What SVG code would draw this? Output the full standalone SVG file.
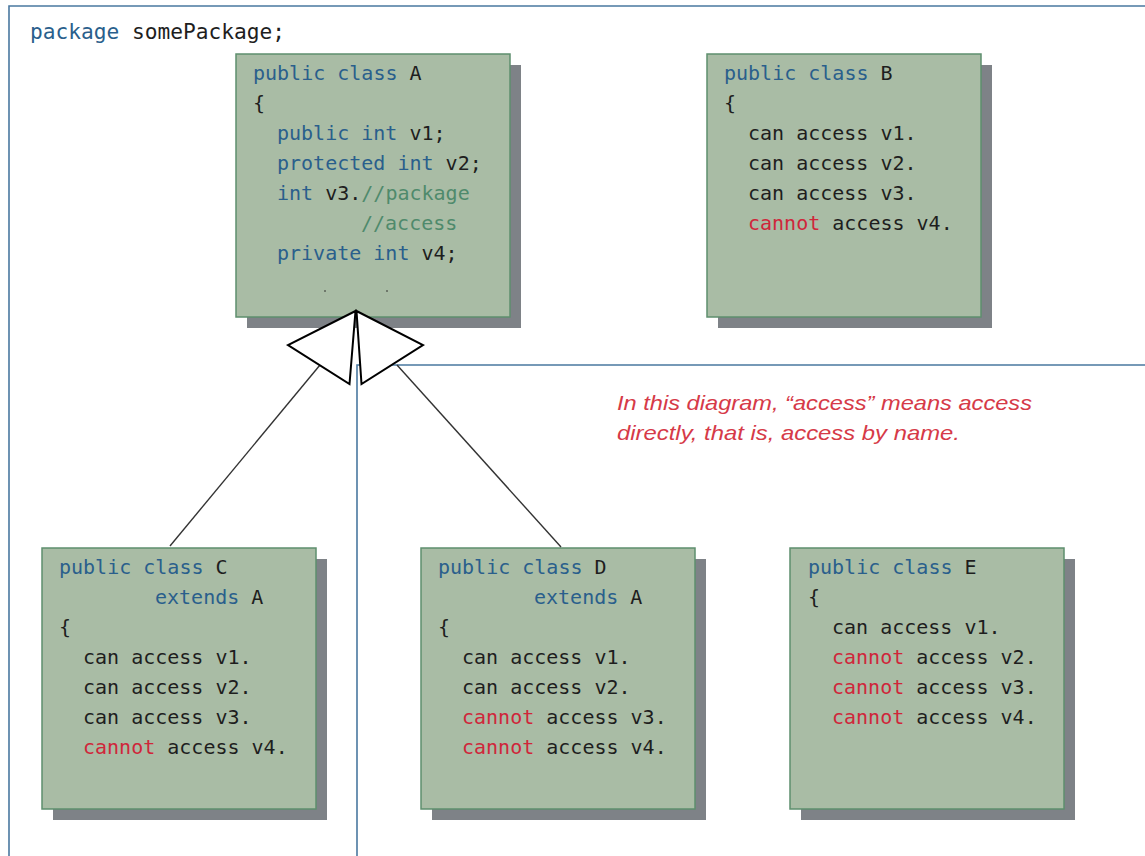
<svg xmlns="http://www.w3.org/2000/svg" width="1145" height="856" viewBox="0 0 1145 856">
<style>
.pkg{fill:none;stroke:#4a78a0;stroke-width:1.6}
.shadow{fill:#7e8287}
.box{fill:#a9bca5;stroke:#5e8f6e;stroke-width:1.5}
text{font-family:"DejaVu Sans Mono","Liberation Mono",monospace;font-size:20px;fill:#1e1e1e}
.kw{fill:#2a5f8c}
.no{fill:#d0263a}
.cm{fill:#4f8a6c}
.note{font-family:"Liberation Sans",Arial,sans-serif;font-style:italic;font-size:21px;fill:#d63a48}
.link{stroke:#333;stroke-width:1.4;fill:none}
.tri{fill:#fff;stroke:#000;stroke-width:2;stroke-linejoin:miter}
</style>
<rect width="1145" height="856" fill="#fff"/>
<g id="package-somePackage">
<path class="pkg" d="M1146,6 H9 V857"/>
<text x="30" y="39" style="font-size:21.2px"><tspan class="kw">package</tspan> somePackage;</text>
</g>
<g id="package-other">
<path class="pkg" d="M1146,365 H357 V857"/>
</g>
<g id="classA">
<rect class="shadow" x="247" y="65" width="274" height="263"/>
<rect class="box" x="236" y="54" width="274" height="263"/>
<text x="253" y="80"><tspan class="kw">public class</tspan> A</text>
<text x="253" y="110">{</text>
<text x="277" y="140"><tspan class="kw">public int</tspan> v1;</text>
<text x="277" y="170"><tspan class="kw">protected int</tspan> v2;</text>
<text x="277" y="200"><tspan class="kw">int</tspan> v3.<tspan class="cm">//package</tspan></text>
<text x="361" y="230" class="cm">//access</text>
<text x="277" y="260"><tspan class="kw">private int</tspan> v4;</text>
<circle cx="325" cy="291" r="0.8" fill="#222"/>
<circle cx="387" cy="291" r="0.8" fill="#222"/>
</g>
<g id="classB">
<rect class="shadow" x="718" y="65" width="274" height="263"/>
<rect class="box" x="707" y="54" width="274" height="263"/>
<text x="724" y="80"><tspan class="kw">public class</tspan> B</text>
<text x="724" y="110">{</text>
<text x="748" y="140">can access v1.</text>
<text x="748" y="170">can access v2.</text>
<text x="748" y="200">can access v3.</text>
<text x="748" y="230"><tspan class="no">cannot</tspan> access v4.</text>
</g>
<g id="classC">
<rect class="shadow" x="53" y="559" width="274" height="261"/>
<rect class="box" x="42" y="548" width="274" height="261"/>
<text x="59" y="574"><tspan class="kw">public class</tspan> C</text>
<text x="155" y="604"><tspan class="kw">extends</tspan> A</text>
<text x="59" y="634">{</text>
<text x="83" y="664">can access v1.</text>
<text x="83" y="694">can access v2.</text>
<text x="83" y="724">can access v3.</text>
<text x="83" y="754"><tspan class="no">cannot</tspan> access v4.</text>
</g>
<g id="classD">
<rect class="shadow" x="432" y="559" width="274" height="261"/>
<rect class="box" x="421" y="548" width="274" height="261"/>
<text x="438" y="574"><tspan class="kw">public class</tspan> D</text>
<text x="534" y="604"><tspan class="kw">extends</tspan> A</text>
<text x="438" y="634">{</text>
<text x="462" y="664">can access v1.</text>
<text x="462" y="694">can access v2.</text>
<text x="462" y="724"><tspan class="no">cannot</tspan> access v3.</text>
<text x="462" y="754"><tspan class="no">cannot</tspan> access v4.</text>
</g>
<g id="classE">
<rect class="shadow" x="801" y="559" width="274" height="261"/>
<rect class="box" x="790" y="548" width="274" height="261"/>
<text x="808" y="574"><tspan class="kw">public class</tspan> E</text>
<text x="808" y="604">{</text>
<text x="832" y="634">can access v1.</text>
<text x="832" y="664"><tspan class="no">cannot</tspan> access v2.</text>
<text x="832" y="694"><tspan class="no">cannot</tspan> access v3.</text>
<text x="832" y="724"><tspan class="no">cannot</tspan> access v4.</text>
</g>
<g id="note">
<text class="note" x="617" y="410" textLength="415" lengthAdjust="spacingAndGlyphs">In this diagram, “access” means access</text>
<text class="note" x="617" y="440" textLength="343" lengthAdjust="spacingAndGlyphs">directly, that is, access by name.</text>
</g>
<g id="connectors">
<line class="link" x1="320" y1="365" x2="170" y2="546"/>
<line class="link" x1="397" y1="365" x2="561" y2="547"/>
<polygon class="tri" points="355.5,311 288,345 349.5,384"/>
<polygon class="tri" points="356.5,311 423,345 361.5,384"/>
</g>
</svg>
